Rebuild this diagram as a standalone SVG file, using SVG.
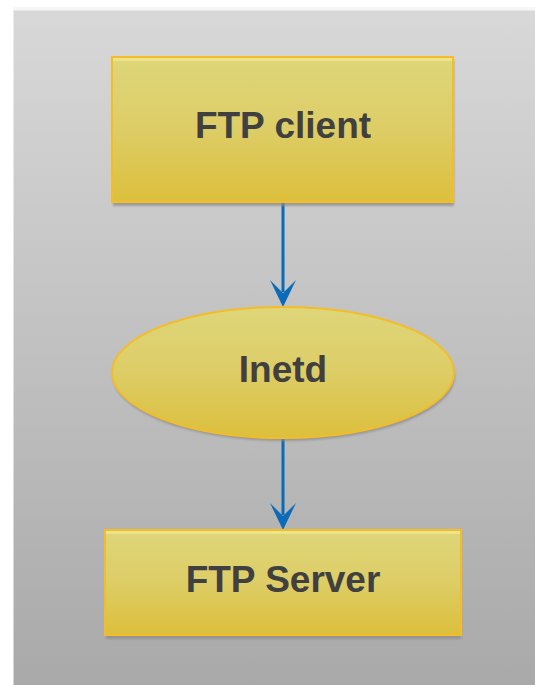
<svg xmlns="http://www.w3.org/2000/svg" width="535" height="685" viewBox="0 0 535 685">
  <style>
    .shape { fill: url(#nodeFill); stroke: #f5bd25; stroke-width: 2; }
    .shadow { fill: #8c8c8c; opacity: 0.75; filter: url(#soft); }
    .gloss { fill: #f0e690; opacity: 0.8; }
    .label { font-family: "Liberation Sans", Arial, sans-serif; font-weight: bold; font-size: 37px; fill: #404040; text-anchor: middle; }
    .link { stroke: #0b6bb8; stroke-width: 3; fill: none; }
    .head { fill: #0b6bb8; }
  </style>
  <defs>
    <linearGradient id="panel" x1="0" y1="0" x2="0" y2="1">
      <stop offset="0" stop-color="#d8d8d8"/>
      <stop offset="1" stop-color="#a9a9a9"/>
    </linearGradient>
    <linearGradient id="nodeFill" x1="0" y1="0" x2="0" y2="1">
      <stop offset="0" stop-color="#ded67a"/>
      <stop offset="0.5" stop-color="#ddcd66"/>
      <stop offset="1" stop-color="#dcbf3c"/>
    </linearGradient>
    <filter id="soft" x="-5%" y="-5%" width="110%" height="120%">
      <feGaussianBlur stdDeviation="1"/>
    </filter>
  </defs>

  <!-- page background -->
  <rect x="0" y="0" width="535" height="685" fill="#ffffff"/>
  <rect x="13" y="7" width="522" height="4" fill="#f6f6f6"/>
  <rect x="13.5" y="10.5" width="522" height="675" fill="url(#panel)"/>

  <!-- connectors -->
  <g id="connectors">
    <line class="link" x1="283" y1="203" x2="283" y2="292"/>
    <path class="head" d="M270,280 L283,293 L296,280 L283,307 Z"/>
    <line class="link" x1="283" y1="438" x2="283" y2="515"/>
    <path class="head" d="M270,503 L283,516 L296,503 L283,530 Z"/>
  </g>

  <!-- FTP client -->
  <g id="ftp-client">
    <rect class="shadow" x="113" y="60" width="341" height="146"/>
    <rect class="shape" x="112" y="57" width="341" height="145"/>
    <rect class="gloss" x="113" y="58" width="339" height="3"/>
    <text class="label" x="283" y="138">FTP client</text>
  </g>

  <!-- Inetd -->
  <g id="inetd">
    <ellipse class="shadow" cx="284" cy="376" rx="171" ry="65"/>
    <ellipse class="shape" cx="283" cy="372.5" rx="171" ry="65.5"/>
    <text class="label" x="283" y="382">Inetd</text>
  </g>

  <!-- FTP Server -->
  <g id="ftp-server">
    <rect class="shadow" x="106" y="533" width="355" height="106"/>
    <rect class="shape" x="105" y="530" width="356" height="105"/>
    <rect class="gloss" x="106" y="531" width="354" height="3"/>
    <text class="label" x="283" y="592">FTP Server</text>
  </g>
</svg>
